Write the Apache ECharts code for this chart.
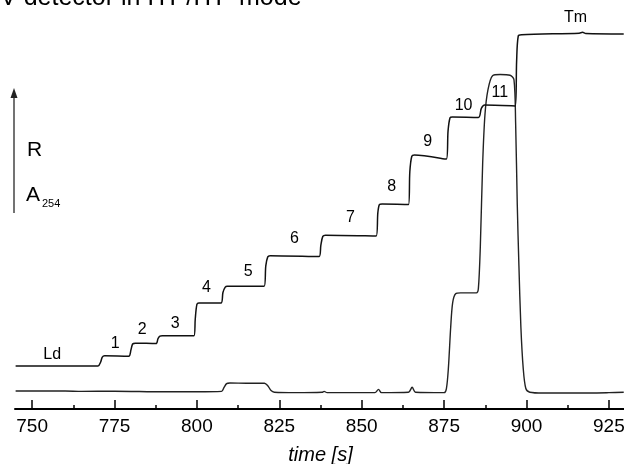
<!DOCTYPE html>
<html>
<head>
<meta charset="utf-8">
<script src="https://cdn.jsdelivr.net/npm/echarts@6/dist/echarts.min.js"></script>
<style>
  html, body { margin: 0; padding: 0; background: #fff; }
  #chart { width: 624px; height: 464px; }
</style>
</head>
<body>
<div id="chart"></div>
<script>
var myChart = echarts.init(document.getElementById('chart'));

// R trace (conductivity detector), [time s, signal a.u.]
const rTrace = [
    [745, 10.5], [770, 10.5], [770.8, 11.5], [771.3, 12.7], [772, 13.0], [779.3, 12.9],
    [780, 14.5], [780.5, 15.9], [781.3, 16.1], [787.6, 16.0], [788.2, 17.2], [788.8, 17.8],
    [789.5, 17.9], [799.1, 17.9], [799.5, 22], [800, 25.6], [800.6, 25.9], [807.3, 25.9],
    [807.9, 28.5], [808.6, 29.8], [809.2, 30.0], [820.4, 30.0], [820.9, 35], [821.5, 37.2],
    [822.2, 37.5], [837.1, 37.3], [837.6, 40], [838.2, 42.2], [839, 42.5], [854.4, 42.3],
    [854.9, 48], [855.4, 50], [856.2, 50.1], [864.2, 50.0], [864.6, 58], [865.2, 61.8],
    [866, 62.1], [875.7, 61.1], [876.2, 68], [876.8, 71.2], [877.5, 71.4], [885.4, 71.3],
    [886.3, 73.5], [887.3, 74.3], [896.6, 74.1], [897.0, 85], [897.5, 91.2], [898.5, 91.5],
    [916, 91.9], [917, 92.1], [918, 91.8], [929.5, 91.7]
];

// A254 trace (UV detector)
const uvTrace = [
    [745, 4.4], [760, 4.4], [765, 4.3], [775, 4.35], [790, 4.2], [800, 4.2], [807.5, 4.3],
    [808.2, 5.2], [809, 6.2], [810, 6.35], [815, 6.3], [820.5, 6.3], [821.5, 5.7],
    [822.5, 4.5], [823.5, 4.1], [830, 4.0], [838, 4.1], [838.6, 4.3], [839.5, 4.0],
    [854, 4.0], [855.1, 4.8], [856, 4.0], [864.2, 4.1], [865.3, 5.3], [866.3, 4.1],
    [875, 4.0], [875.7, 5], [876.3, 10], [877, 20], [877.6, 26], [878.5, 28.2], [880, 28.4],
    [884.8, 28.4], [885.4, 29.5], [886, 40], [886.7, 60], [887.4, 72], [888.3, 78],
    [889.7, 81.5], [892, 81.8], [895, 81.6], [896.2, 80.5], [896.7, 70], [897.2, 50],
    [897.7, 35], [898.3, 20], [899, 10], [899.8, 5], [901, 4.1], [905, 3.9], [915, 3.9],
    [925, 4.0], [929.5, 4.1]
];

// zone labels
const zoneNames = ['Ld', '1', '2', '3', '4', '5', '6', '7', '8', '9', '10', '11', 'Tm'];
const zonePos = [
    [756.1, 13.2], [775.2, 16.1], [783.4, 19.3], [793.4, 21.0], [802.9, 29.6],
    [815.6, 33.7], [829.6, 41.6], [846.6, 46.7], [859.1, 54.3], [870.0, 65.3],
    [880.9, 74.3], [891.9, 77.3], [914.9, 95.6]
];

const font = 'Liberation Sans';

var option = {
    animation: false,
    grid: [
        {left: -50.3, right: -67.3, top: 0, bottom: 55, containLabel: false, outerBoundsMode: 'none'},
        {left: 15, right: 0, top: 0, bottom: 55, containLabel: false, outerBoundsMode: 'none'}
    ],
    xAxis: [
        {
            type: 'value',
            gridIndex: 0,
            min: 725,
            max: 950,
            interval: 25,
            axisLine: {show: false},
            axisTick: {show: true, inside: true, length: 9, lineStyle: {color: '#000', width: 1.5}},
            minorTick: {show: true, splitNumber: 2, length: 4, lineStyle: {color: '#000', width: 1.5}},
            splitLine: {show: false},
            axisLabel: {color: '#000', fontFamily: font, fontSize: 19, margin: 8},
            name: 'time [s]',
            nameLocation: 'middle',
            nameGap: 36,
            nameTextStyle: {color: '#000', fontFamily: font, fontSize: 20, fontStyle: 'italic'}
        },
        {
            type: 'value',
            gridIndex: 1,
            min: 0,
            max: 1,
            axisLine: {show: true, lineStyle: {color: '#000', width: 2}},
            axisTick: {show: false},
            axisLabel: {show: false},
            splitLine: {show: false}
        }
    ],
    yAxis: [
        {type: 'value', gridIndex: 0, min: 0, max: 100, show: false},
        {type: 'value', gridIndex: 1, min: 0, max: 1, show: false}
    ],
    graphic: [
        {
            type: 'text',
            style: {x: -18, y: 11, text: 'UV detector in ITP/ITP mode', font: '25px ' + font,
                fill: '#000', verticalAlign: 'bottom'}
        },
        {
            type: 'line',
            shape: {x1: 14, y1: 96, x2: 14, y2: 213},
            style: {stroke: '#444', lineWidth: 1.5}
        },
        {
            type: 'polygon',
            shape: {points: [[14, 88], [10.5, 98], [17.5, 98]]},
            style: {fill: '#222'}
        },
        {
            type: 'text',
            style: {x: 27, y: 150, text: 'R', font: '21px ' + font, fill: '#000', verticalAlign: 'middle'}
        },
        {
            type: 'text',
            style: {x: 26, y: 195, text: 'A', font: '21px ' + font, fill: '#000', verticalAlign: 'middle'}
        },
        {
            type: 'text',
            style: {x: 42, y: 204, text: '254', font: '11px ' + font, fill: '#000', verticalAlign: 'middle'}
        }
    ],
    series: [
        {
            type: 'line',
            xAxisIndex: 0,
            yAxisIndex: 0,
            data: uvTrace,
            showSymbol: false,
            smooth: 0.3,
            lineStyle: {color: '#222', width: 1.4}
        },
        {
            type: 'line',
            xAxisIndex: 0,
            yAxisIndex: 0,
            data: rTrace,
            showSymbol: false,
            smooth: 0.3,
            lineStyle: {color: '#111', width: 1.5}
        },
        {
            type: 'scatter',
            xAxisIndex: 0,
            yAxisIndex: 0,
            symbolSize: 0,
            itemStyle: {opacity: 1},
            data: zonePos.map((p, i) => ({value: p, name: zoneNames[i]})),
            label: {
                show: true,
                position: 'inside',
                formatter: p => p.name,
                color: '#000',
                fontFamily: font,
                fontSize: 16
            }
        }
    ]
};

myChart.setOption(option);
</script>
</body>
</html>
